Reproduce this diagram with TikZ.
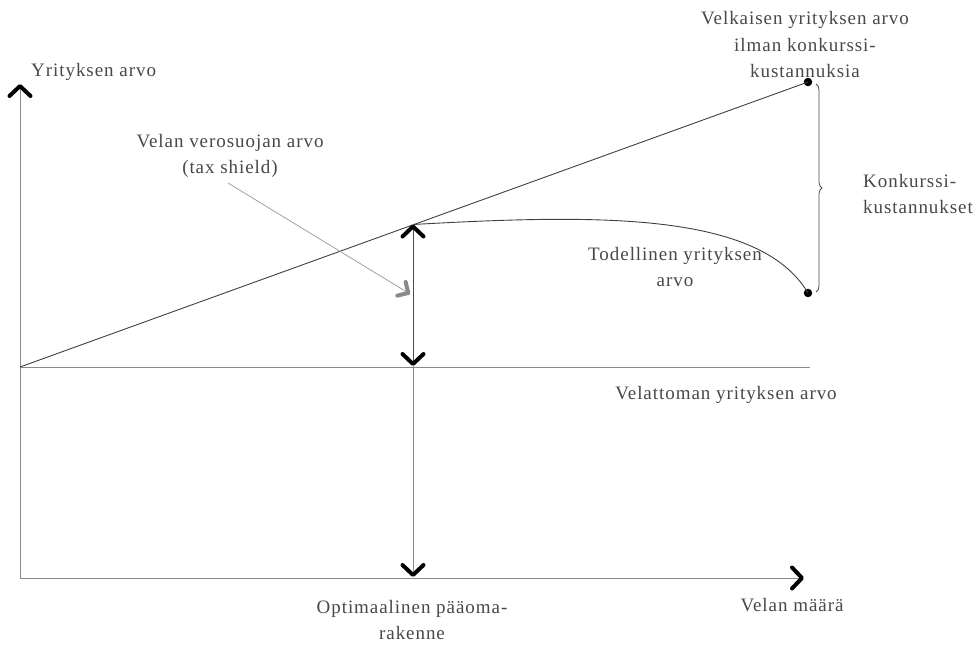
\documentclass[tikz,border=0pt]{standalone}
\usepackage{fontspec}
\setmainfont{Liberation Serif}[LetterSpace=5]
\usetikzlibrary{arrows.meta,decorations.pathreplacing}
\definecolor{txt}{HTML}{484848}
\definecolor{ln}{HTML}{8A8A8A}
\tikzset{
  lbl/.style={text=txt,font=\fontsize{19}{26.5}\selectfont,inner sep=0pt,align=center},
  axis/.style={draw=ln,line width=1pt},
  thin/.style={draw=ln,line width=0.9pt},
  vtip/.tip={Straight Barb[length=10pt,width=21pt,line width=4pt,color=black,round]},
  gtip/.tip={Straight Barb[length=8pt,width=16pt,line width=4pt,color=ln,round]},
  bigtip/.style={-vtip},
  dot/.style={circle,fill=black,inner sep=0pt,minimum size=8.5pt},
}
\begin{document}
\begin{tikzpicture}[x=1pt,y=-1pt]
\useasboundingbox (0,0) rectangle (977,645);
\coordinate (O) at (20,578);
\coordinate (Ytop) at (20,84);
\coordinate (Xend) at (804,578);
\coordinate (U0) at (20,367);
\coordinate (U1) at (810,367);
\coordinate (Opt) at (413,224.5);
\coordinate (OptU) at (413,366);
\coordinate (OptB) at (413,577);
\coordinate (TS) at (228,183);
\coordinate (TSend) at (410,294);
\node[dot] (D1) at (808,82) {};
\node[dot] (D2) at (808,293) {};
% axes
\draw[axis,bigtip] (O) -- (Ytop);
\draw[axis,bigtip] (O) -- (Xend);
% unlevered value
\draw[thin] (U0) -- (U1);
% levered value line
\draw[draw=black!75,line width=0.9pt] (U0) -- (D1.center);
% real value curve
\draw[draw=black!75,line width=0.9pt] (Opt) .. controls (600,214) and (760,212) .. (D2.center);
% optimal vertical
\draw[draw=black!70,line width=1pt,vtip-vtip] (Opt) -- (OptU);
\draw[thin,bigtip] (OptU) -- (OptB);
% tax shield pointer
\draw[draw=ln!80,line width=0.8pt,-gtip] (TS) -- (TSend);
% brace
\draw[draw=black!70,line width=0.8pt,decorate,decoration={brace,amplitude=6pt}] (816,84) -- (816,292) coordinate[midway] (Bm);
% labels
\node[lbl,anchor=west] (L1) at (31,72) {Yrityksen arvo};
\node[lbl] (L2) at (230,156) {Velan verosuojan arvo\\(tax shield)};
\node[lbl] (L3) at (805,45) {Velkaisen yrityksen arvo\\ilman konkurssi-\\kustannuksia};
\node[lbl,anchor=west,align=left] (L4) at (863,194) {Konkurssi-\\kustannukset};
\node[lbl] (L5) at (675,267) {Todellinen yrityksen\\arvo};
\node[lbl] (L6) at (726,395) {Velattoman yrityksen arvo};
\node[lbl] (L7) at (412,620) {Optimaalinen pääoma-\\rakenne};
\node[lbl] (L8) at (792,605) {Velan määrä};
\end{tikzpicture}
\end{document}
